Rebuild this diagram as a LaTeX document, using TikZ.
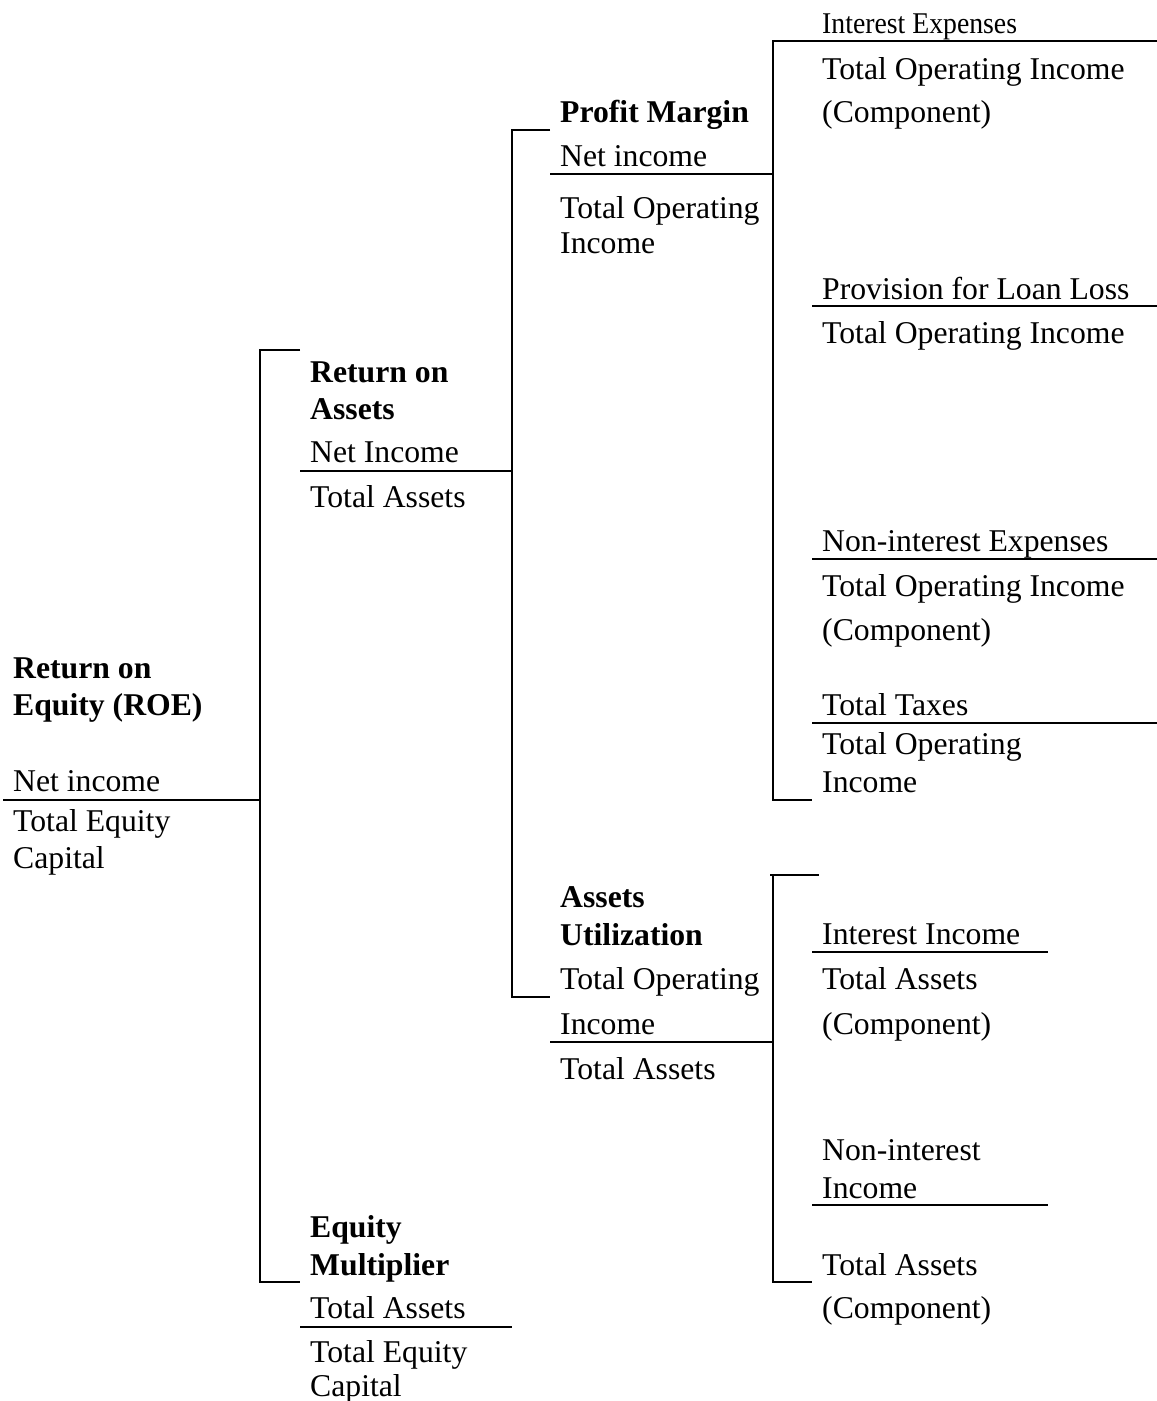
\documentclass[tikz,border=0pt]{standalone}
\usepackage{fontspec}
\usepackage{graphicx}
\setmainfont{Liberation Serif}
\begin{document}
\begin{tikzpicture}[x=1pt,y=-1pt,
  txt/.style={anchor=base west,inner sep=0pt,font=\fontsize{31.7}{38}\selectfont},
  hd/.style={txt,font=\fontsize{31.7}{38}\selectfont\bfseries},
  bar/.style={line width=1.6pt}]
\useasboundingbox (0,0) rectangle (1157,1401);
% ---------- column 1: ROE
\node[hd]  (roe1) at (13,678) {Return on};
\node[hd]  (roe2) at (13,715) {Equity (ROE)};
\node[txt] (roen) at (13,791) {Net income};
\node[txt] (roed1) at (13,831) {Total Equity};
\node[txt] (roed2) at (13,868) {Capital};
% ---------- column 2: ROA
\node[hd]  (roa1) at (310,382) {Return on};
\node[hd]  (roa2) at (310,419) {Assets};
\node[txt] (roan) at (310,462) {Net Income};
\node[txt] (road) at (310,507) {Total Assets};
% ---------- column 2: Equity Multiplier
\node[hd]  (em1) at (310,1237) {Equity};
\node[hd]  (em2) at (310,1275) {Multiplier};
\node[txt] (emn) at (310,1318) {Total Assets};
\node[txt] (emd1) at (310,1362) {Total Equity};
\node[txt] (emd2) at (310,1396) {Capital};
% ---------- column 3: Profit Margin
\node[hd]  (pm1) at (560,122) {Profit Margin};
\node[txt] (pmn) at (560,166) {Net income};
\node[txt] (pmd1) at (560,218) {Total Operating};
\node[txt] (pmd2) at (560,253) {Income};
% ---------- column 3: Assets Utilization
\node[hd]  (au1) at (560,907) {Assets};
\node[hd]  (au2) at (560,945) {Utilization};
\node[txt] (aun1) at (560,989) {Total Operating};
\node[txt] (aun2) at (560,1034) {Income};
\node[txt] (aud) at (560,1079) {Total Assets};
% ---------- column 4: profit margin components
\node[txt] (ie)  at (822,33) {\scalebox{0.875}[0.95]{Interest Expenses}};
\node[txt] (ied1) at (822,79) {Total Operating Income};
\node[txt] (ied2) at (822,122) {(Component)};
\node[txt] (pl)  at (822,299) {Provision for Loan Loss};
\node[txt] (pld) at (822,343) {Total Operating Income};
\node[txt] (ne)  at (822,551) {Non-interest Expenses};
\node[txt] (ned1) at (822,596) {Total Operating Income};
\node[txt] (ned2) at (822,640) {(Component)};
\node[txt] (tt)  at (822,715) {Total Taxes};
\node[txt] (ttd1) at (822,754) {Total Operating};
\node[txt] (ttd2) at (822,792) {Income};
% ---------- column 4: asset utilization components
\node[txt] (ii)  at (822,944) {Interest Income};
\node[txt] (iid1) at (822,989) {Total Assets};
\node[txt] (iid2) at (822,1034) {(Component)};
\node[txt] (ni1) at (822,1160) {Non-interest};
\node[txt] (ni2) at (822,1198) {Income};
\node[txt] (nid1) at (822,1275) {Total Assets};
\node[txt] (nid2) at (822,1318) {(Component)};
% ---------- junction coordinates
\coordinate (roeL) at (3,800);
\coordinate (j1) at (260,800);
\coordinate (j1t) at (260,350);
\coordinate (j1b) at (260,1282);
\coordinate (roaT) at (300,350);
\coordinate (emT) at (300,1282);
\coordinate (roaL) at (300,471);
\coordinate (j2) at (512,471);
\coordinate (j2t) at (512,130);
\coordinate (j2b) at (512,997);
\coordinate (pmT) at (550,130);
\coordinate (auT) at (550,997);
\coordinate (emL) at (300,1327);
\coordinate (emR) at (512,1327);
\coordinate (pmL) at (550,174);
\coordinate (j3) at (773,174);
\coordinate (j3t) at (773,41);
\coordinate (j3b) at (773,800);
\coordinate (ieR) at (1157,41);
\coordinate (ttT) at (812,800);
\coordinate (plL) at (812,306);
\coordinate (plR) at (1157,306);
\coordinate (neL) at (812,559);
\coordinate (neR) at (1157,559);
\coordinate (ttL) at (812,723);
\coordinate (ttR) at (1157,723);
\coordinate (auL) at (550,1042);
\coordinate (j4) at (773,1042);
\coordinate (j4t) at (773,875);
\coordinate (j4b) at (773,1282);
\coordinate (j4tl) at (770,875);
\coordinate (iiT) at (819,875);
\coordinate (nidT) at (812,1282);
\coordinate (iiL) at (812,952);
\coordinate (iiR) at (1048,952);
\coordinate (niL) at (812,1205);
\coordinate (niR) at (1048,1205);
% ---------- bars and brackets
\draw[bar] (roeL) -- (j1);
\draw[bar] (roaT) -- (j1t) -- (j1b) -- (emT);
\draw[bar] (roaL) -- (j2);
\draw[bar] (pmT) -- (j2t) -- (j2b) -- (auT);
\draw[bar] (emL) -- (emR);
\draw[bar] (pmL) -- (j3);
\draw[bar] (ieR) -- (j3t) -- (j3b) -- (ttT);
\draw[bar] (plL) -- (plR);
\draw[bar] (neL) -- (neR);
\draw[bar] (ttL) -- (ttR);
\draw[bar] (auL) -- (j4);
\draw[bar] (j4tl) -- (iiT);
\draw[bar] (j4t) -- (j4b) -- (nidT);
\draw[bar] (iiL) -- (iiR);
\draw[bar] (niL) -- (niR);
\end{tikzpicture}
\end{document}
